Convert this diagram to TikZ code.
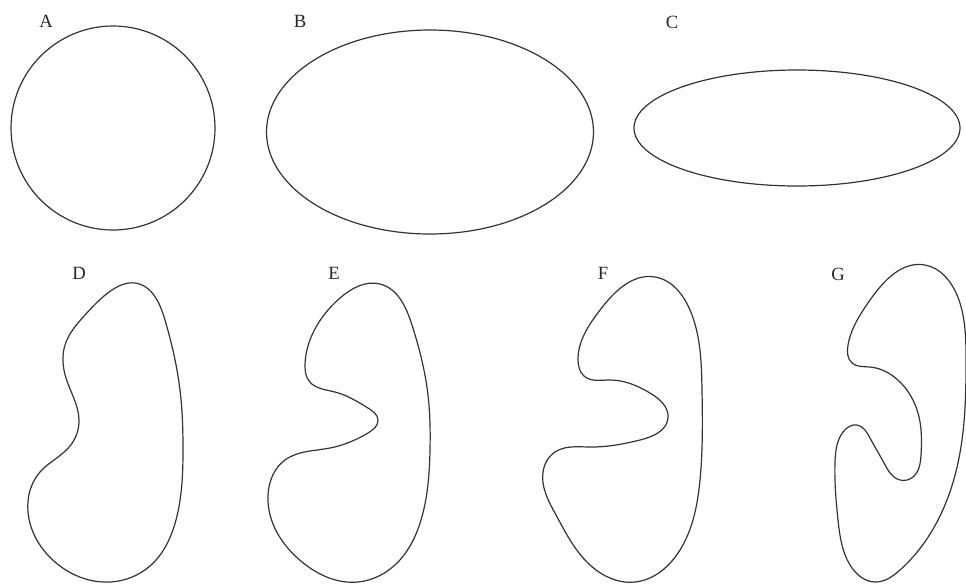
\documentclass[tikz,border=0pt]{standalone}
\usepackage{fontspec}
\setmainfont{Liberation Serif}
\usetikzlibrary{hobby}
\begin{document}
\begin{tikzpicture}[x=0.75pt,y=-0.75pt,
  outline/.style={draw=black!80,line width=0.9pt,use Hobby shortcut,closed=true},
  lbl/.style={font=\fontsize{14}{16}\selectfont,text=black!85,inner sep=0pt}]
\useasboundingbox (0,0) rectangle (966,583);
% labels
\node[lbl] (la) at (46,21) {A};
\node[lbl] (lb) at (300,21) {B};
\node[lbl] (lc) at (672,22) {C};
\node[lbl] (ld) at (79,273) {D};
\node[lbl] (le) at (334,273) {E};
\node[lbl] (lf) at (603,273) {F};
\node[lbl] (lg) at (838,274) {G};
% top row
\draw[draw=black!80,line width=0.9pt] (113,128) circle[radius=102];
\draw[draw=black!80,line width=0.9pt] (430,132) ellipse[x radius=163.5,y radius=102];
\draw[draw=black!80,line width=0.9pt] (797,128) ellipse[x radius=163,y radius=58];
% D
\draw[outline] (135,283) .. (165,320) .. (180,390) .. (183,450) .. (176,520)
 .. (150,566) .. (110,582) .. (55,562) .. (28,512) .. (40,472) .. (70,446)
 .. (79,420) .. (66,378) .. (65,345) .. (85,315) .. (112,290);
% E
\draw[outline] (380,284) .. (412,325) .. (428,395) .. (430,450) .. (421,520)
 .. (398,562) .. (358,582) .. (302,562) .. (268,495) .. (285,460) .. (330,448)
 .. (368,433) .. (378,420) .. (368,408) .. (335,392) .. (309,381) .. (305,365)
 .. (312,335) .. (340,298);
% F
\draw[outline] (655,277) .. (690,310) .. (702,390) .. (700,480) .. (680,550)
 .. (635,582) .. (590,565) .. (556,515) .. (543,472) .. (555,452) .. (590,447)
 .. (640,440) .. (668,418) .. (650,393) .. (610,380) .. (584,376) .. (578,360)
 .. (600,310);
% G
\draw[outline] (925,265) .. (957,295) .. (966,360) .. (962,440) .. (938,520)
 .. (900,570) .. (875,582) .. (850,565) .. (838,520) .. (835,462) .. (843,432)
 .. (857,425) .. (870,438) .. (884,463) .. (900,480) .. (913,477) .. (921,455)
 .. (918,413) .. (900,382) .. (870,367) .. (852,363) .. (848,345) .. (870,300);
\end{tikzpicture}
\end{document}
